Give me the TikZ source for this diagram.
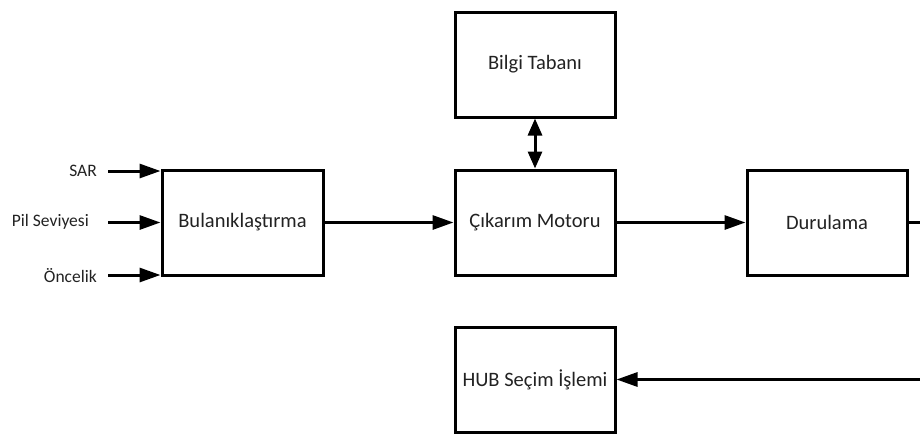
\documentclass[tikz,border=0pt]{standalone}
\usepackage{fontspec}
\setmainfont{Carlito}
\usetikzlibrary{arrows.meta,calc}
\definecolor{txt}{HTML}{222222}
\tikzset{
  blk/.style={draw=black, line width=3pt, minimum width=160pt, minimum height=105pt, inner sep=0pt,
    text=txt, font=\fontsize{20.5}{24}\selectfont},
  lbl/.style={anchor=east, inner sep=0pt, text=txt, font=\fontsize{17.5}{20}\selectfont},
  conn/.style={line width=3pt, -{Triangle[length=21pt,width=14pt]}},
  dconn/.style={line width=3pt, {Triangle[length=17pt,width=14pt]}-{Triangle[length=17pt,width=14pt]}}
}
\begin{document}
\begin{tikzpicture}[x=1pt,y=-1pt]
\path[use as bounding box] (0,0) rectangle (920,434);
\clip (0,0) rectangle (920,434);
\node[blk] (bilgi) at (535,64.5) {Bilgi Tabanı};
\node[blk] (cik) at (535,222.5) {Çıkarım Motoru};
\node[blk, minimum width=161pt] (bul) at (242.5,222.5) {Bulanıklaştırma};
\node[blk] (dur) at (827,222.5) {Durulama};
\node[blk] (hub) at (535,379.5) {HUB Seçim İşlemi};
\node[lbl] (sar) at (97,171) {SAR};
\node[lbl] (pil) at (89,222) {Pil Seviyesi};
\node[lbl] (onc) at (97,276) {Öncelik};
\coordinate (i1) at (108,171);
\coordinate (i2) at (108,222.5);
\coordinate (i3) at (108,275);
\draw[conn] (i1) -- (i1 -| bul.west);
\draw[conn] (i2) -- (i2 -| bul.west);
\draw[conn] (i3) -- (i3 -| bul.west);
\draw[conn] (bul.east) -- (cik.west);
\draw[conn] (cik.east) -- (dur.west);
\draw[dconn] (bilgi.south) -- (cik.north);
\coordinate (fb) at ($(dur.east)+(30,0)$);
\draw[conn] (dur.east) -- (fb) |- (hub.east);
\end{tikzpicture}
\end{document}
